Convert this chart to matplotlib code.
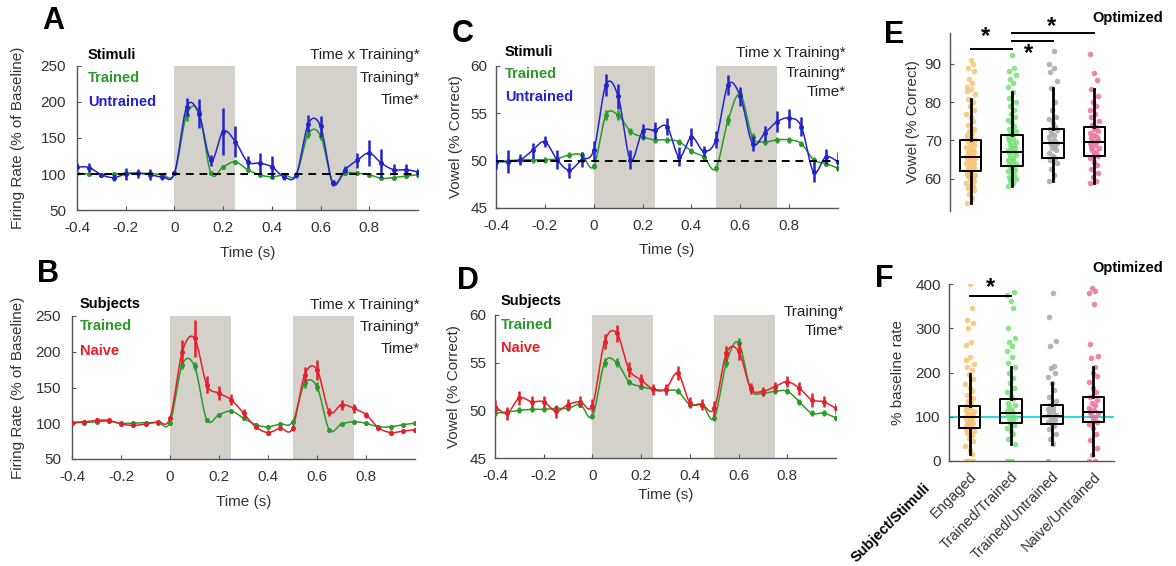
import numpy as np
import matplotlib
matplotlib.use("Agg")
import matplotlib.pyplot as plt

plt.rcParams['font.family'] = ['Liberation Sans', 'DejaVu Sans']
plt.rcParams['font.size'] = 11

# ---------------- data ----------------
time_s = [-0.4, -0.35, -0.3, -0.25, -0.2, -0.15, -0.1, -0.05, 0.0, 0.05, 0.1, 0.15, 0.2, 0.25,
          0.3, 0.35, 0.4, 0.45, 0.5, 0.55, 0.6, 0.65, 0.7, 0.75, 0.8, 0.85, 0.9, 0.95, 1.0]

A_untrained = [110, 109, 99, 95, 100, 101, 99, 96, 101, 193, 184, 119, 159, 145, 117, 115, 110, 96, 99,
               170, 166, 87, 106, 119, 129, 115, 106, 106, 103]
A_untrained_err = [5, 6, 3, 5, 8, 6, 8, 4, 3, 12, 20, 8, 32, 22, 8, 14, 15, 5, 4, 12, 14, 4, 5, 10, 18, 20, 8, 8, 6]
A_trained = [101, 100, 99, 100, 101, 101, 101, 99, 101, 182, 186, 101, 110, 117, 106, 99, 96, 99, 99,
             156, 153, 89, 101, 101, 99, 94, 95, 97, 99]
A_trained_err = [2, 2, 2, 2, 2, 2, 2, 2, 2, 8, 8, 2, 3, 3, 2, 2, 2, 2, 2, 6, 6, 2, 2, 2, 2, 2, 2, 2, 2]

B_naive = [101, 102, 104, 104, 99, 97, 99, 102, 107, 200, 219, 154, 142, 133, 114, 95, 87, 93, 93,
           168, 175, 116, 126, 121, 112, 94, 87, 89, 91]
B_naive_err = [2, 2, 3, 3, 2, 2, 3, 3, 3, 16, 26, 12, 10, 8, 6, 3, 3, 3, 4, 10, 14, 6, 7, 6, 4, 3, 3, 3, 3]
B_trained = [101, 101, 102, 103, 100, 100, 101, 101, 101, 182, 180, 105, 112, 117, 107, 98, 95, 99, 102,
             156, 151, 91, 99, 102, 100, 95, 95, 98, 100]
B_trained_err = [2, 2, 2, 2, 2, 2, 2, 2, 2, 6, 6, 2, 2, 2, 2, 2, 2, 2, 2, 6, 6, 2, 2, 2, 2, 2, 2, 2, 2]

C_untrained = [49.9, 49.9, 50.1, 51.1, 52.0, 50.1, 49.0, 50.1, 51.1, 58.0, 56.8, 50.1, 53.1, 53.2, 53.6,
               50.4, 52.5, 51.0, 52.2, 58.0, 56.8, 51.8, 52.9, 54.1, 54.5, 53.6, 48.8, 50.4, 49.9]
C_untrained_err = [0.8, 1.2, 0.6, 0.8, 0.6, 1.0, 0.8, 0.8, 1.0, 1.2, 1.3, 1.0, 0.8, 0.9, 0.9, 1.0, 1.0, 0.6,
                   0.9, 1.1, 1.0, 0.8, 0.8, 1.1, 1.0, 1.0, 1.1, 0.8, 1.0]
C_trained = [49.9, 50.0, 50.1, 50.1, 50.1, 50.2, 50.6, 50.6, 49.4, 54.8, 54.8, 53.1, 52.5, 52.2, 52.2,
             52.0, 51.0, 50.4, 49.2, 54.3, 57.0, 52.5, 52.0, 52.2, 52.2, 51.8, 50.1, 49.7, 49.2]
C_trained_err = [0.3, 0.3, 0.3, 0.3, 0.3, 0.3, 0.3, 0.3, 0.3, 0.5, 0.5, 0.4, 0.3, 0.3, 0.3, 0.3, 0.3, 0.3,
                 0.3, 0.5, 0.5, 0.4, 0.3, 0.3, 0.3, 0.3, 0.3, 0.3, 0.3]

D_naive = [50.4, 49.7, 51.3, 50.9, 50.9, 49.9, 50.6, 50.9, 50.5, 57.2, 58.1, 54.3, 53.2, 52.2, 52.2,
           53.9, 50.8, 50.6, 50.2, 56.0, 56.2, 52.3, 52.0, 52.5, 53.0, 52.3, 51.1, 50.9, 50.2]
D_naive_err = [0.7, 0.7, 0.7, 0.6, 0.6, 0.7, 0.6, 0.6, 0.7, 0.8, 0.9, 0.8, 0.6, 0.6, 0.6, 0.7, 0.6, 0.6,
               0.8, 0.8, 0.9, 0.6, 0.5, 0.5, 0.6, 0.7, 0.7, 0.6, 0.6]
D_trained = [49.7, 49.8, 50.0, 50.1, 50.1, 50.2, 50.2, 50.6, 49.4, 55.0, 55.0, 53.0, 52.5, 52.2, 52.1,
             52.0, 50.6, 50.6, 49.2, 55.0, 57.1, 52.2, 51.8, 52.0, 52.0, 50.9, 49.7, 49.7, 49.2]
D_trained_err = [0.3, 0.3, 0.3, 0.3, 0.3, 0.3, 0.3, 0.3, 0.3, 0.5, 0.5, 0.3, 0.3, 0.3, 0.3, 0.3, 0.3, 0.3,
                 0.3, 0.5, 0.5, 0.3, 0.3, 0.3, 0.3, 0.3, 0.3, 0.3, 0.3]

groups = ["Engaged", "Trained/Trained", "Trained/Untrained", "Naive/Untrained"]

# box statistics: [whislo, q1, med, q3, whishi]
E_stats = [[53.8, 61.9, 65.6, 70.0, 80.9],
           [58.0, 63.4, 67.1, 71.3, 82.6],
           [59.3, 65.4, 69.3, 73.0, 83.7],
           [58.9, 66.0, 69.5, 73.4, 83.5]]
F_stats = [[15, 75, 99, 125, 197],
           [38, 87, 108, 139, 213],
           [38, 84, 102, 127, 176],
           [14, 89, 111, 145, 212]]

E_engaged = [53.8, 55, 56, 57, 57.5, 58, 58.5, 59, 59.5, 60, 60.3, 60.7, 61, 61.3, 61.7, 62, 62.2, 62.5,
             62.8, 63, 63.3, 63.6, 64, 64.2, 64.5, 64.8, 65, 65.3, 65.6, 65.8, 66, 66.3, 66.6, 67, 67.3,
             67.6, 68, 68.3, 68.7, 69, 69.4, 69.8, 70, 70.5, 71, 71.5, 72, 72.5, 73, 74, 75, 76, 77, 78,
             79, 80, 80.9, 82, 83, 83.5, 84, 85, 86, 88, 89, 90, 91]
E_trained_trained = [58, 59, 59.5, 60, 60.5, 61, 61.5, 62, 62.3, 62.7, 63, 63.4, 63.8, 64.2, 64.6, 65,
                     65.4, 65.8, 66.2, 66.6, 67, 67.2, 67.5, 67.9, 68.3, 68.7, 69.1, 69.5, 70, 70.4,
                     70.8, 71.3, 71.8, 72.4, 73, 73.7, 74.5, 75.3, 76, 77, 78, 79, 80, 81, 82.6, 84,
                     85, 86, 87, 88, 89, 92.3]
E_trained_untrained = [59.3, 61, 62.5, 64, 65, 65.4, 66, 66.8, 67.5, 68, 68.6, 69, 69.3, 69.7, 70.2,
                       70.8, 71.5, 72, 72.6, 73, 73.6, 74.5, 75.5, 76, 78, 80, 83.7, 85.5, 87.8, 89,
                       90, 93.3]
E_naive_untrained = [58.9, 59.5, 60.5, 61.5, 62.5, 63.5, 64.5, 65.3, 66, 66.5, 67, 67.5, 68, 68.4, 68.8,
                     69.2, 69.5, 69.8, 70.2, 70.6, 71, 71.5, 72, 72.5, 73, 73.4, 74, 75, 76, 77, 78,
                     79, 80, 81.5, 83.5, 85.8, 87.6, 92.6]

F_engaged = [0, 0, 0, 0, 0, 15, 25, 35, 45, 52, 58, 63, 68, 72, 75, 78, 81, 84, 87, 90, 93, 96, 99, 101,
             104, 107, 110, 113, 116, 120, 125, 130, 136, 142, 150, 158, 166, 175, 185, 197, 205, 212,
             220, 228, 235, 262, 268, 300, 312, 318, 345, 400]
F_trained_trained = [0, 0, 0, 38, 50, 60, 68, 75, 81, 87, 92, 96, 100, 104, 108, 112, 116, 121, 126, 132,
                     139, 146, 155, 165, 176, 188, 200, 213, 222, 235, 248, 260, 270, 278, 300, 345, 362,
                     375, 383]
F_trained_untrained = [0, 38, 50, 62, 72, 80, 84, 88, 92, 96, 100, 102, 105, 109, 113, 118, 122, 127, 135,
                       145, 160, 176, 190, 200, 210, 215, 260, 272, 325, 380]
F_naive_untrained = [0, 0, 14, 30, 48, 62, 75, 83, 89, 94, 99, 104, 108, 111, 115, 120, 126, 132, 138,
                     145, 155, 165, 178, 192, 200, 212, 232, 238, 265, 355, 380, 385, 390]

# ---------------- style ----------------
GREEN = '#2a9a2a'
BLUE = '#2323cc'
RED = '#e5202a'
SHADE = '#d4d1cb'
AXC = '#555555'
TXC = '#333333'
PT_COLORS = ['#f8c373', '#74e374', '#a8a8a8', '#ee6f9f']
FS = 11

W, H = 1176, 566
fig = plt.figure(figsize=(W / 100, H / 100), dpi=100)


def px_axes(l, t, r, b):
    return fig.add_axes([l / W, 1 - b / H, (r - l) / W, (b - t) / H])


def smooth(x, y, xs):
    """Cubic Hermite (Catmull-Rom style) curve through the data points, for drawing only."""
    x = np.asarray(x, float)
    y = np.asarray(y, float)
    m = np.gradient(y, x)
    idx = np.clip(np.searchsorted(x, xs) - 1, 0, len(x) - 2)
    h = x[idx + 1] - x[idx]
    s = (xs - x[idx]) / h
    h00 = 2 * s ** 3 - 3 * s ** 2 + 1
    h10 = s ** 3 - 2 * s ** 2 + s
    h01 = -2 * s ** 3 + 3 * s ** 2
    h11 = s ** 3 - s ** 2
    return h00 * y[idx] + h10 * h * m[idx] + h01 * y[idx + 1] + h11 * h * m[idx + 1]


def style_axes(ax, ypad=6):
    for s in ['top', 'right']:
        ax.spines[s].set_visible(False)
    for s in ['left', 'bottom']:
        ax.spines[s].set_color(AXC)
        ax.spines[s].set_linewidth(1.0)
    ax.tick_params(direction='in', length=3, color=AXC, labelcolor=TXC, labelsize=FS)
    ax.tick_params(axis='y', pad=ypad)
    ax.tick_params(axis='x', pad=8)


def set_labels(ax, ylabel, ylab_x, xlab_top=None, xlabel='Time (s)'):
    ax.set_ylabel(ylabel, color=TXC, fontsize=FS)
    pos = ax.get_position()
    ax.yaxis.set_label_coords((ylab_x + 8) / W, pos.y0 + pos.height / 2, transform=fig.transFigure)
    if xlab_top is not None:
        ax.set_xlabel(xlabel, color=TXC, fontsize=FS)
        ax.xaxis.set_label_coords(pos.x0 + pos.width / 2, 1 - xlab_top / H, transform=fig.transFigure)


def line_panel(ax, series, ylim, yticks, dashed=None, ypad=6):
    ax.axvspan(0, 0.25, color=SHADE, lw=0, zorder=0)
    ax.axvspan(0.5, 0.75, color=SHADE, lw=0, zorder=0)
    t = np.asarray(time_s)
    ts = np.linspace(t[0], t[-1], 800)
    for vals, err, col in series:
        v = np.asarray(vals, float)
        e = np.asarray(err, float)
        ax.plot(ts, smooth(t, v, ts), color=col, lw=1.1, zorder=2)
        ax.vlines(t, v - e, v + e, color=col, lw=1.8, zorder=3)
        ax.plot(t, v, 'o', color=col, ms=2.6, zorder=3)
    if dashed is not None:
        ax.axhline(dashed, color='black', ls=(0, (4, 3)), lw=1.4, zorder=4)
    ax.set_xlim(-0.4, 1.0)
    ax.set_ylim(*ylim)
    ax.set_yticks(yticks)
    ax.set_xticks([-0.4, -0.2, 0, 0.2, 0.4, 0.6, 0.8])
    ax.set_xticklabels(['-0.4', '-0.2', '0', '0.2', '0.4', '0.6', '0.8'])
    style_axes(ax, ypad)


def ftext(x, y, s, **kw):
    fig.text(x / W, 1 - y / H, s, **kw)


# ---- Panel A ----
axA = px_axes(77, 66, 418, 210)
line_panel(axA, [(A_trained, A_trained_err, GREEN), (A_untrained, A_untrained_err, BLUE)],
           (50, 250), [50, 100, 150, 200, 250], dashed=100, ypad=8)
set_labels(axA, 'Firing Rate (% of Baseline)', 17, 246)
# ---- Panel B ----
axB = px_axes(72, 316, 415, 459)
line_panel(axB, [(B_trained, B_trained_err, GREEN), (B_naive, B_naive_err, RED)],
           (50, 250), [50, 100, 150, 200, 250], ypad=8)
set_labels(axB, 'Firing Rate (% of Baseline)', 17, 495)
# ---- Panel C ----
axC = px_axes(496, 66, 838, 208)
line_panel(axC, [(C_trained, C_trained_err, GREEN), (C_untrained, C_untrained_err, BLUE)],
           (45, 60), [45, 50, 55, 60], dashed=50)
set_labels(axC, 'Vowel (% Correct)', 455, 243)
# ---- Panel D ----
axD = px_axes(495, 315, 836, 458)
line_panel(axD, [(D_trained, D_trained_err, GREEN), (D_naive, D_naive_err, RED)],
           (45, 60), [45, 50, 55, 60])
set_labels(axD, 'Vowel (% Correct)', 453, 488)

# panel annotations
bold = dict(fontweight='bold', fontsize=10.5, va='center', ha='left')
norm = dict(fontsize=FS, va='center', ha='right', color='#222222')
ftext(88, 55, 'Stimuli', color='black', **bold)
ftext(88, 78, 'Trained', color=GREEN, **bold)
ftext(88, 102, 'Untrained', color=BLUE, **bold)
ftext(420, 55, 'Time x Training*', **norm)
ftext(420, 78, 'Training*', **norm)
ftext(420, 100, 'Time*', **norm)

ftext(80, 304, 'Subjects', color='black', **bold)
ftext(80, 326, 'Trained', color=GREEN, **bold)
ftext(80, 351, 'Naive', color=RED, **bold)
ftext(420, 305, 'Time x Training*', **norm)
ftext(420, 327, 'Training*', **norm)
ftext(420, 349, 'Time*', **norm)

ftext(505, 52, 'Stimuli', color='black', **bold)
ftext(505, 74, 'Trained', color=GREEN, **bold)
ftext(505, 97, 'Untrained', color=BLUE, **bold)
ftext(846, 53, 'Time x Training*', **norm)
ftext(846, 73, 'Training*', **norm)
ftext(846, 92, 'Time*', **norm)

ftext(501, 301, 'Subjects', color='black', **bold)
ftext(501, 325, 'Trained', color=GREEN, **bold)
ftext(501, 348, 'Naive', color=RED, **bold)
ftext(844, 312, 'Training*', **norm)
ftext(844, 331, 'Time*', **norm)

# panel letters
let = dict(fontsize=22, fontweight='bold', ha='center', va='center', color='black')
ftext(53, 21, 'A', **let)
ftext(48, 274, 'B', **let)
ftext(463, 34, 'C', **let)
ftext(468, 281, 'D', **let)
ftext(894, 35, 'E', **let)
ftext(884, 279, 'F', **let)


def box_panel(ax, stats, pts, ylim):
    jit = [-0.12, 0.04, -0.05, 0.11, -0.09, 0.07, 0.0, -0.13, 0.1, -0.02, 0.06, -0.07, 0.13, -0.1, 0.02]
    for i, (vals, col) in enumerate(zip(pts, PT_COLORS)):
        xs = [i + 1 + 0.8 * jit[k % len(jit)] for k in range(len(vals))]
        ax.scatter(xs, vals, s=16, color=col, alpha=0.85, lw=0, zorder=2)
    bst = []
    for s in stats:
        bst.append(dict(whislo=s[0], q1=s[1], med=s[2], q3=s[3], whishi=s[4], fliers=[]))
    ax.bxp(bst, positions=[1, 2, 3, 4], widths=0.52, showfliers=False, showcaps=False,
           boxprops=dict(color='black', lw=1.4), medianprops=dict(color='black', lw=1.4),
           whiskerprops=dict(color='black', lw=2.0), manage_ticks=False, zorder=3)
    ax.set_xlim(0.5, 4.5)
    ax.set_ylim(*ylim)
    style_axes(ax, 6)


# ---- Panel E ----
axE = px_axes(950, 33, 1115, 211)
box_panel(axE, E_stats, [E_engaged, E_trained_trained, E_trained_untrained, E_naive_untrained], (51.6, 98))
axE.spines['bottom'].set_visible(False)
axE.set_xticks([])
axE.set_yticks([60, 70, 80, 90])
set_labels(axE, 'Vowel (% Correct)', 912)
axE.plot([1, 2], [93.9, 93.9], color='black', lw=1.4, clip_on=False)
axE.plot([2, 3], [96.0, 96.0], color='black', lw=1.4, clip_on=False)
axE.plot([2, 4], [98.0, 98.0], color='black', lw=1.4, clip_on=False)
axE.text(1.35, 97.0, '*', fontsize=17, fontweight='bold', ha='center', va='center', clip_on=False)
axE.text(2.4, 92.6, '*', fontsize=17, fontweight='bold', ha='center', va='center', clip_on=False)
axE.text(2.95, 99.6, '*', fontsize=17, fontweight='bold', ha='center', va='center', clip_on=False)
ftext(1128, 18, 'Optimized', fontsize=10.5, fontweight='bold', ha='center', va='center')

# ---- Panel F ----
axF = px_axes(949, 284, 1114, 461)
box_panel(axF, F_stats, [F_engaged, F_trained_trained, F_trained_untrained, F_naive_untrained], (0, 400))
axF.axhline(100, color='#22dde0', lw=1.4, zorder=1)
axF.set_yticks([0, 100, 200, 300, 400])
set_labels(axF, '% baseline rate', 897)
axF.set_xticks([1, 2, 3, 4])
axF.set_xticklabels(groups, rotation=45, ha='right', rotation_mode='anchor', fontsize=10.5)
axF.tick_params(axis='x', length=0, pad=6)
axF.plot([1, 2], [373, 373], color='black', lw=1.4, clip_on=False)
axF.text(1.5, 392, '*', fontsize=17, fontweight='bold', ha='center', va='center', clip_on=False)
ftext(1128, 268, 'Optimized', fontsize=10.5, fontweight='bold', ha='center', va='center')
fig.text(928 / W, 1 - 486 / H, 'Subject/Stimuli', fontsize=10.5, fontweight='bold', rotation=45,
         ha='right', va='center', rotation_mode='anchor')

fig.savefig('out.png', dpi=100)
